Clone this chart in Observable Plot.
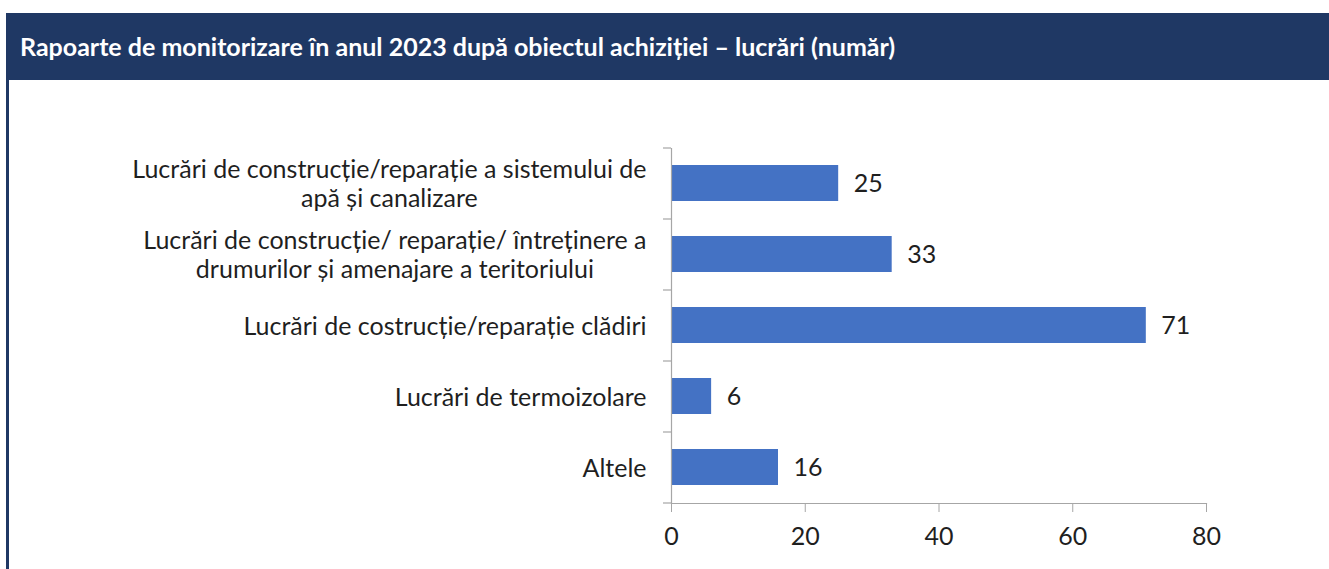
<!DOCTYPE html>
<html>
<head>
<meta charset="utf-8">
<script src="https://cdn.jsdelivr.net/npm/d3@7"></script>
<script src="https://cdn.jsdelivr.net/npm/@observablehq/plot@0.6"></script>
<style>
  html, body { margin: 0; padding: 0; background: #fff; width: 1329px; height: 569px; overflow: hidden; position: relative; }
  #header { position: absolute; left: 6px; top: 13px; width: 1323px; height: 67px; background: #1F3864; }
  #title { position: absolute; left: 14px; top: 0; line-height: 67px; color: #fff; font-family: Lato, "Open Sans", sans-serif; font-weight: bold; font-size: 25px; white-space: nowrap; }
  #leftline { position: absolute; left: 6px; top: 80px; width: 3px; height: 489px; background: #1F3864; }
  #chart { position: absolute; left: 0; top: 80px; }
</style>
</head>
<body>
<div id="header"><div id="title">Rapoarte de monitorizare în anul 2023 după obiectul achiziției – lucrări (număr)</div></div>
<div id="leftline"></div>
<div id="chart"></div>
<script>
const categories = [
  "Lucrări de construcție/reparație a sistemului de\napă și canalizare",
  "Lucrări de construcție/ reparație/ întreținere a\ndrumurilor și amenajare a teritoriului",
  "Lucrări de costrucție/reparație clădiri",
  "Lucrări de termoizolare",
  "Altele"
];
const values = [25, 33, 71, 6, 16];
const xTicks = [0, 20, 40, 60, 80];

const W = 1329, H = 489;
const mL = 671, mR = 123, mT = 68, mB = 66;
const plotW = W - mL - mR;
const plotH = H - mT - mB;
const pInner = 0.49, pOuter = 0.245;
const step = plotH / (categories.length - pInner + 2 * pOuter);
const axisColor = "#a6a6a6";
const textColor = "#1f1f1f";
const font = "Lato, 'Open Sans', sans-serif";
const fs = 25;

// measure widest line of each label so wrapped lines are centred as a block
const ctx = document.createElement("canvas").getContext("2d");
ctx.font = `${fs}px Lato, 'Open Sans', sans-serif`;
const blockWidth = s => Math.max(...s.split("\n").map(l => ctx.measureText(l).width));

const data = categories.map((c, i) => ({category: c, value: values[i], half: blockWidth(c) / 2}));

const chart = Plot.plot({
  width: W,
  height: H,
  marginLeft: mL,
  marginRight: mR,
  marginTop: mT,
  marginBottom: mB,
  style: {fontFamily: font, color: textColor, background: "transparent"},
  x: {domain: [0, 80]},
  y: {domain: categories, paddingInner: pInner, paddingOuter: pOuter, align: 0.5},
  marks: [
    Plot.barX(data, {x: "value", y: "category", fill: "#4472C4"}),
    Plot.ruleX([0], {stroke: axisColor, strokeWidth: 1.2}),
    Plot.frame({anchor: "bottom", stroke: axisColor, strokeWidth: 1.2}),
    Plot.tickY(categories, {y: d => d, dy: -step / 2, insetLeft: -8, insetRight: plotW, stroke: axisColor, strokeWidth: 1.2}),
    Plot.tickY(categories.slice(-1), {y: d => d, dy: step / 2, insetLeft: -8, insetRight: plotW, stroke: axisColor, strokeWidth: 1.2}),
    Plot.axisX({ticks: xTicks, tickSize: 9, tickPadding: 15, stroke: axisColor, fontSize: fs, fill: textColor, label: null, tickFormat: d => d}),
    Plot.axisY({ticks: [], label: null}),
    ...data.map(d => Plot.text([d], {y: "category", text: "category", frameAnchor: "left", textAnchor: "middle", dx: -25 - d.half, lineHeight: 1.16, fontSize: fs, fill: textColor})),
    Plot.text(data, {x: "value", y: "category", text: d => String(d.value), textAnchor: "start", dx: 15, fontSize: fs, fill: textColor})
  ]
});
document.getElementById("chart").appendChild(chart);
</script>
</body>
</html>
